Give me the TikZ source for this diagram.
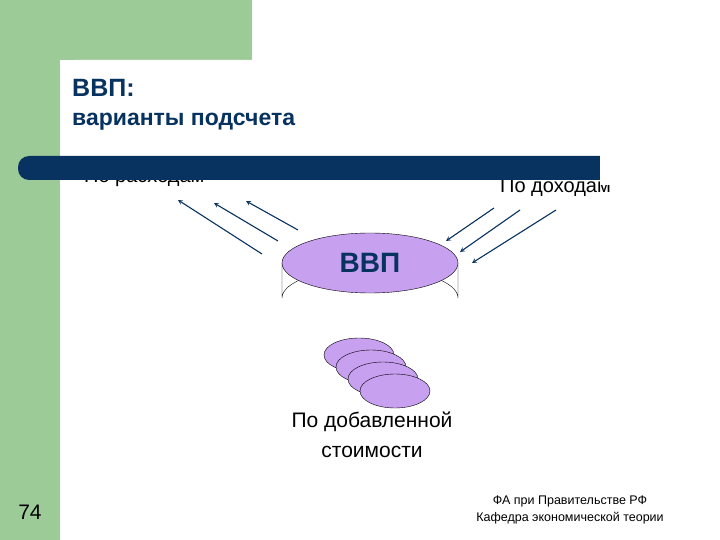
\documentclass[tikz,border=0pt]{standalone}
\usepackage{fontspec}
\setmainfont{Liberation Sans}
\begin{document}
\begin{tikzpicture}[x=1pt,y=-1pt]
\definecolor{gr}{HTML}{9DCB98}
\definecolor{nv}{HTML}{08325F}
\definecolor{lil}{HTML}{C8A0F0}
\tikzset{arr/.style={->,>=stealth,nv,line width=1.1pt},
 lbl/.style={inner sep=0pt,font=\fontsize{20}{20}\selectfont}}
\useasboundingbox (0,0) rectangle (720,540);
\fill[gr] (0,0) rectangle (252,60);
\fill[gr] (0,0) rectangle (60,540);
\fill[white,rounded corners=14pt] (60,60) rectangle (720,560);
\node[lbl,anchor=west] (r) at (84,178) {По расходам};
\node[lbl,anchor=west] (d) at (500,188) {По доходам};
\fill[nv,rounded corners=11pt] (18,156) rectangle (620,180);
\fill[nv] (300,156) rectangle (600,180);
\fill[white] (600,150) rectangle (640,185);
\node[anchor=west,inner sep=0pt,text=nv,font=\bfseries\fontsize{25}{25}\selectfont] (t1) at (72,88) {ВВП:};
\node[anchor=west,inner sep=0pt,text=nv,font=\bfseries\fontsize{23}{23}\selectfont] (t2) at (72,122) {варианты подсчета};
% cylinder
\draw[fill=white] (282,263) -- (282,298) arc[start angle=180,end angle=360,x radius=88,y radius=30] -- (458,263);
\draw[fill=lil] (370,263) ellipse[x radius=88,y radius=30];
\node[text=nv,font=\bfseries\fontsize{28}{28}\selectfont] (g) at (370,263) {ВВП};
\coordinate (a1) at (262,254); \coordinate (b1) at (178,200);
\coordinate (a2) at (278,241); \coordinate (b2) at (214,203);
\coordinate (a3) at (298,230); \coordinate (b3) at (246,201);
\coordinate (a4) at (494,208); \coordinate (b4) at (446,241);
\coordinate (a5) at (520,210); \coordinate (b5) at (460,252);
\coordinate (a6) at (556,210); \coordinate (b6) at (472,263);
\foreach \i in {1,...,6} \draw[arr] (a\i) -- (b\i);
\foreach \k in {0,1,2,3} \draw[fill=lil] (359+12*\k,355+12*\k) ellipse[x radius=35,y radius=17];
\node[lbl,align=center,font=\fontsize{21}{30}\selectfont] (v) at (372,435) {По добавленной\\стоимости};
\node[font=\fontsize{21}{21}\selectfont] (n) at (30,512) {74};
\node[align=center,font=\fontsize{12.5}{17}\selectfont] (f) at (570,510) {ФА при Правительстве РФ\\Кафедра экономической теории};
\end{tikzpicture}
\end{document}
